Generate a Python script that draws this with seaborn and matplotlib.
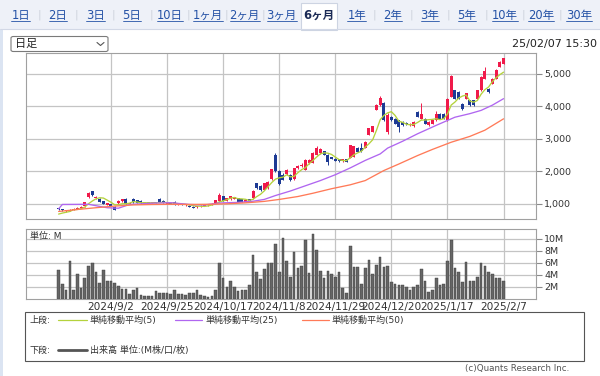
import matplotlib
matplotlib.use("Agg")
import matplotlib.pyplot as plt
import numpy as np
import pandas as pd
import seaborn as sns
from matplotlib.lines import Line2D
from matplotlib.patches import FancyBboxPatch, Rectangle

W, H = 600, 376

# ---- data ---------------------------------------------------------------
tab_labels = ["1日", "2日", "3日", "5日", "10日", "1ヶ月", "2ヶ月", "3ヶ月", "6ヶ月",
              "1年", "2年", "3年", "5年", "10年", "20年", "30年"]
active_tab = "6ヶ月"

date_idx = [14, 29, 44, 59, 74, 89, 104, 119]
date_labels = ["2024/9/2", "2024/9/25", "2024/10/17", "2024/11/8",
               "2024/11/29", "2024/12/20", "2025/1/17", "2025/2/7"]

price_ticks = [1000, 2000, 3000, 4000, 5000]
volume_ticks = [2, 4, 6, 8, 10]

opens = [870, 840, 785, 790, 820, 850, 880, 930, 1210, 1385,
         1190, 1160, 1080, 975, 990, 920, 1020, 1080, 1160, 1010,
         1150, 1120, 1100, 1055, 1050, 1030, 1055, 1150, 1100, 1010,
         1020, 1050, 980, 990, 965, 945, 920, 895, 925, 945,
         960, 975, 1030, 1080, 1245, 1100, 1140, 1160, 1175, 1140,
         1070, 1140, 1175, 1640, 1560, 1440, 1480, 1760, 2510, 2020,
         1900, 1910, 1900, 1760, 2100, 2180, 2060, 2260, 2270, 2520,
         2580, 2620, 2510, 2440, 2380, 2380, 2320, 2380, 2410, 2460,
         2720, 2720, 2720, 3130, 3230, 3900, 4050, 4100, 3215, 3680,
         3630, 3570, 3520, 3500, 3420, 3400, 3830, 3620, 3620, 3420,
         3470, 3580, 3780, 3780, 3570, 4290, 4500, 4450, 4090, 4240,
         4190, 4190, 4240, 4500, 4860, 4550, 4700, 4860, 5220, 5320]
highs = [890, 850, 815, 840, 865, 895, 925, 1070, 1370, 1410,
         1240, 1180, 1100, 1040, 1000, 935, 1110, 1160, 1175, 1060,
         1170, 1130, 1110, 1070, 1060, 1060, 1065, 1170, 1110, 1040,
         1030, 1090, 1010, 1000, 1000, 955, 930, 940, 960, 970,
         1000, 1020, 1120, 1350, 1260, 1190, 1250, 1230, 1185, 1150,
         1130, 1150, 1420, 1660, 1580, 1650, 1700, 2080, 2560, 2050,
         1950, 2080, 1920, 2120, 2210, 2260, 2380, 2380, 2600, 2770,
         2730, 2640, 2530, 2460, 2400, 2390, 2390, 2390, 2830, 2790,
         2740, 2880, 2940, 3350, 3400, 4070, 4310, 4130, 3800, 3700,
         3650, 3590, 3540, 3520, 3490, 3540, 3850, 4110, 3640, 3540,
         3590, 3860, 3800, 3800, 4260, 4960, 4520, 4470, 4120, 4420,
         4210, 4200, 4520, 4930, 5230, 4560, 4880, 5140, 5400, 5500]
lows = [820, 790, 760, 770, 805, 835, 865, 920, 1190, 1250,
        1140, 1050, 990, 960, 930, 800, 1000, 1060, 990, 990,
        1040, 1030, 1010, 1010, 1020, 1015, 1030, 1060, 1020, 995,
        985, 980, 970, 955, 950, 895, 870, 885, 915, 935,
        950, 965, 1020, 1070, 1080, 1090, 1130, 1150, 1060, 1060,
        1060, 1050, 1160, 1470, 1410, 1430, 1470, 1740, 1990, 1580,
        1730, 1890, 1720, 1740, 2080, 2140, 2040, 2240, 2250, 2500,
        2550, 2500, 2200, 2370, 2310, 2300, 2300, 2290, 2400, 2450,
        2600, 2610, 2710, 3110, 3210, 3880, 4030, 3540, 3150, 3560,
        3460, 3220, 3400, 3440, 3400, 3380, 3670, 3600, 3460, 3400,
        3450, 3560, 3620, 3600, 3540, 4280, 4220, 4220, 3880, 4220,
        4030, 4030, 4220, 4480, 4840, 4420, 4680, 4840, 5200, 5300]
closes = [835, 800, 800, 825, 855, 880, 910, 1055, 1340, 1265,
          1225, 1075, 1005, 1020, 945, 830, 1095, 1150, 1010, 1045,
          1060, 1045, 1030, 1020, 1035, 1050, 1040, 1075, 1030, 1030,
          995, 990, 1000, 965, 990, 905, 880, 930, 950, 960,
          990, 1010, 1110, 1270, 1095, 1180, 1240, 1220, 1070, 1070,
          1120, 1060, 1410, 1480, 1420, 1640, 1690, 2065, 2010, 1620,
          1750, 2050, 1740, 2100, 2180, 2210, 2360, 2350, 2580, 2720,
          2700, 2520, 2300, 2380, 2320, 2310, 2370, 2300, 2820, 2770,
          2610, 2630, 2920, 3330, 3390, 4050, 4260, 3590, 3730, 3570,
          3470, 3370, 3420, 3450, 3470, 3520, 3680, 3780, 3470, 3520,
          3570, 3780, 3630, 3620, 4240, 4950, 4240, 4240, 3930, 4400,
          4040, 4050, 4500, 4900, 5100, 4450, 4860, 5110, 5370, 5490]
volumes = [4.8, 2.5, 1.45, 6.3, 1.5, 4.2, 1.7, 3.5, 5.5, 5.9,
           4.5, 2.6, 4.8, 3.0, 3.0, 2.6, 2.1, 1.6, 1.6, 0.8,
           1.4, 1.7, 0.6, 0.5, 0.5, 0.5, 1.3, 0.85, 0.85, 0.85,
           0.7, 1.5, 0.7, 0.7, 0.6, 0.85, 0.85, 1.5, 0.6, 0.4,
           0.3, 0.4, 1.5, 5.9, 3.5, 2.0, 3.0, 1.9, 1.2, 1.35,
           1.45, 2.2, 7.3, 4.4, 3.3, 4.9, 5.9, 5.9, 9.2, 4.4,
           10.2, 6.3, 3.7, 7.8, 5.1, 5.5, 9.9, 4.3, 10.9, 8.2,
           4.7, 3.5, 4.7, 4.1, 3.6, 4.4, 1.7, 0.95, 8.9, 5.3,
           5.3, 2.5, 5.1, 6.4, 4.2, 5.7, 6.9, 5.3, 5.5, 2.8,
           2.5, 2.3, 2.3, 1.9, 1.45, 1.95, 2.2, 5.0, 2.9, 1.1,
           1.5, 3.5, 2.3, 2.4, 6.3, 9.9, 5.1, 4.5, 2.7, 6.1,
           3.0, 3.0, 3.6, 6.0, 5.4, 4.4, 4.1, 3.5, 3.5, 2.9]

# first MA5 points (need closes before the window)
ma5_head = [690, 720, 745, 770]

ma25_idx = [0, 1, 8, 11, 13, 16, 19, 25, 30, 35, 39, 43, 48, 52, 55, 58, 62, 66,
            70, 74, 78, 82, 86, 88, 92, 96, 101, 104, 106, 110, 113, 116, 119]
ma25_val = [850, 985, 990, 925, 885, 870, 985, 1025, 1040, 985, 970, 1030, 1050,
            1085, 1140, 1260, 1400, 1560, 1720, 1900, 2110, 2340, 2540, 2720,
            2930, 3160, 3420, 3570, 3670, 3780, 3880, 4040, 4240]

ma50_idx = [0, 5, 10, 15, 20, 25, 30, 35, 40, 45, 50, 55, 59, 64, 68, 73, 78, 82,
            87, 91, 96, 100, 105, 110, 114, 119]
ma50_val = [770, 830, 885, 935, 972, 985, 990, 985, 990, 1005, 1035, 1080, 1140,
            1230, 1330, 1470, 1590, 1720, 2030, 2230, 2490, 2680, 2900, 3080,
            3270, 3620]

legend_labels = ["単純移動平均(5)", "単純移動平均(25)", "単純移動平均(50)"]

# ---- styling --------------------------------------------------------------
C_UP = "#f01a4a"
C_DOWN = "#1d3a94"
C_MA5 = "#b4d23c"
C_MA25 = "#b066f0"
C_MA50 = "#ff7a58"
C_GRID = "#c4c4c4"
C_VOL = "#666666"
LINK = "#2552a6"

sns.set_theme(style="white")
plt.rcParams["font.family"] = ["DejaVu Sans", "Noto Sans CJK JP"]


def fx(x):
    return x / W


def fy(y):
    return 1 - y / H


df = pd.DataFrame({"i": np.arange(len(closes)), "open": opens, "high": highs,
                   "low": lows, "close": closes, "volume": volumes})
df["up"] = df["close"] >= df["open"]
df["ma5"] = df["close"].rolling(5).mean()
df.loc[:len(ma5_head) - 1, "ma5"] = ma5_head

fig = plt.figure(figsize=(W / 100, H / 100), dpi=100)
fig.patch.set_facecolor("white")

# page decoration: tab strip, left border
fig.patches.append(Rectangle((0, fy(29)), 1, 29 / H, transform=fig.transFigure,
                             facecolor="#eef1f8", edgecolor="none", zorder=0))
fig.add_artist(Line2D([0, 1], [fy(29), fy(29)], color="#d2d8e6", lw=0.8))
fig.patches.append(Rectangle((fx(301), fy(30)), 36 / W, 27 / H, transform=fig.transFigure,
                             facecolor="white", edgecolor="#cdd4e2", lw=0.8, zorder=1))
fig.patches.append(Rectangle((0, 0), 3 / W, fy(30), transform=fig.transFigure,
                             facecolor="#dbe4f2", edgecolor="none", zorder=0))

tab_centers = [20.8, 58, 95.6, 132, 170, 207.7, 244.8, 281.7, 319,
               356.7, 393, 430, 467, 505, 541, 579]
tab_texts = []
for k, (lab, cx) in enumerate(zip(tab_labels, tab_centers)):
    active = lab == active_tab
    t = fig.text(fx(cx), fy(15), lab, ha="center", va="center", fontsize=8.3,
                 color="#1b2a55" if active else LINK,
                 fontweight="bold" if active else "normal", zorder=3)
    if not active:
        tab_texts.append(t)
    if k < len(tab_labels) - 1:
        sx = (cx + tab_centers[k + 1]) / 2
        if lab != active_tab and tab_labels[k + 1] != active_tab:
            fig.text(fx(sx), fy(15), "|", ha="center", va="center",
                     fontsize=8, color="#cdd2dc")

# period selector and timestamp
fig.patches.append(FancyBboxPatch((fx(11), fy(51.5)), 97 / W, 15 / H,
                                  boxstyle="round,pad=0,rounding_size=0.004",
                                  transform=fig.transFigure, facecolor="white",
                                  edgecolor="#7a7a7a", lw=0.8))
fig.text(fx(15), fy(44), "日足", ha="left", va="center", fontsize=8, color="#222")
fig.add_artist(Line2D([fx(97), fx(100.5), fx(104)], [fy(42.5), fy(45.5), fy(42.5)],
                      color="#555", lw=0.8))
fig.text(fx(597), fy(44), "25/02/07 15:30", ha="right", va="center",
         fontsize=8, color="#222")

# ---- price panel ------------------------------------------------------------
x_lo, x_hi = -8.8, 127.6
ax = fig.add_axes([fx(25.7), fy(219), (535.7 - 25.7) / W, (219 - 52.7) / H])
colors = np.where(df["up"], C_UP, C_DOWN)
ax.vlines(df["i"], df["low"], df["high"], colors=colors, lw=0.7, zorder=2)
body = (df["close"] - df["open"]).abs().clip(lower=14)
ax.bar(df["i"], body, bottom=df[["open", "close"]].min(axis=1), width=0.8,
       color=colors, lw=0, zorder=2)

sns.lineplot(x=df["i"], y=df["ma5"], ax=ax, color=C_MA5, lw=0.95,
             estimator=None, zorder=3)
sns.lineplot(x=ma25_idx, y=ma25_val, ax=ax, color=C_MA25, lw=0.95,
             estimator=None, zorder=3)
sns.lineplot(x=ma50_idx, y=ma50_val, ax=ax, color=C_MA50, lw=0.95,
             estimator=None, zorder=3)

ax.set_xlim(x_lo, x_hi)
ax.set_ylim(538, 5655)
ax.set_xticks(date_idx)
ax.set_xticklabels([])
ax.set_yticks(price_ticks)
ax.set_yticklabels([f"{v:,}" for v in price_ticks])
ax.yaxis.tick_right()
ax.tick_params(axis="x", length=0)
ax.tick_params(axis="y", length=4, width=0.8, color="#8a8a8a", pad=2,
               labelsize=6.8, labelcolor="#333")
ax.grid(True, color=C_GRID, lw=0.9, zorder=0)
ax.set_axisbelow(True)
ax.set_xlabel("")
ax.set_ylabel("")
for sp in ax.spines.values():
    sp.set_color("#a0a0a0")
    sp.set_linewidth(0.8)

# ---- volume panel -----------------------------------------------------------
axv = fig.add_axes([fx(25.7), fy(299), (535.7 - 25.7) / W, (299 - 229) / H])
axv.bar(df["i"], df["volume"], width=0.7, color=C_VOL, edgecolor="#3a3a3a",
        lw=0.3, zorder=2)
axv.set_xlim(x_lo, x_hi)
axv.set_ylim(-0.08, 11.68)
axv.set_yticks(volume_ticks)
axv.set_yticklabels([f"{v}M" for v in volume_ticks])
axv.set_xticks(date_idx)
axv.set_xticklabels(date_labels)
axv.yaxis.tick_right()
axv.tick_params(axis="x", length=0, pad=2.5, labelsize=7.6, labelcolor="#333")
axv.tick_params(axis="y", length=4, width=0.8, color="#8a8a8a", pad=2,
                labelsize=6.8, labelcolor="#333")
axv.grid(True, color=C_GRID, lw=0.9, zorder=0)
axv.set_axisbelow(True)
for sp in axv.spines.values():
    sp.set_color("#a0a0a0")
    sp.set_linewidth(0.8)
axv.text(0.008, 0.9, "単位: M", transform=axv.transAxes, ha="left", va="center",
         fontsize=6.5, color="#333")

# ---- legend box -------------------------------------------------------------
fig.patches.append(Rectangle((fx(25), fy(361)), (584 - 25) / W, (361 - 312) / H,
                             transform=fig.transFigure, facecolor="white",
                             edgecolor="#555", lw=0.8))
fig.text(fx(30), fy(320), "上段:", ha="left", va="center", fontsize=6.5, color="#333")
for (x0, x1, tx), col, lab in zip([(57.7, 86.5, 90), (175, 202, 205), (302, 329, 331.5)],
                                  [C_MA5, C_MA25, C_MA50], legend_labels):
    fig.add_artist(Line2D([fx(x0), fx(x1)], [fy(320), fy(320)], color=col, lw=0.9))
    fig.text(fx(tx), fy(320), lab, ha="left", va="center", fontsize=6.5, color="#333")
fig.text(fx(30), fy(350), "下段:", ha="left", va="center", fontsize=6.5, color="#333")
fig.add_artist(Line2D([fx(57.7), fx(86.5)], [fy(350), fy(350)], color="#555", lw=2))
fig.text(fx(90), fy(350), "出来高 単位:(M株/口/枚)", ha="left", va="center",
         fontsize=6.5, color="#333")
fig.text(fx(569), fy(368), "(c)Quants Research Inc.", ha="right", va="center",
         fontsize=6.3, color="#555")

# underline the tab links
fig.canvas.draw()
for t in tab_texts:
    bb = t.get_window_extent()
    fig.add_artist(Line2D([bb.x0 / W, bb.x1 / W], [(bb.y0 + 0.5) / H] * 2,
                          color=LINK, lw=0.6))

fig.savefig("out.png", dpi=100)
